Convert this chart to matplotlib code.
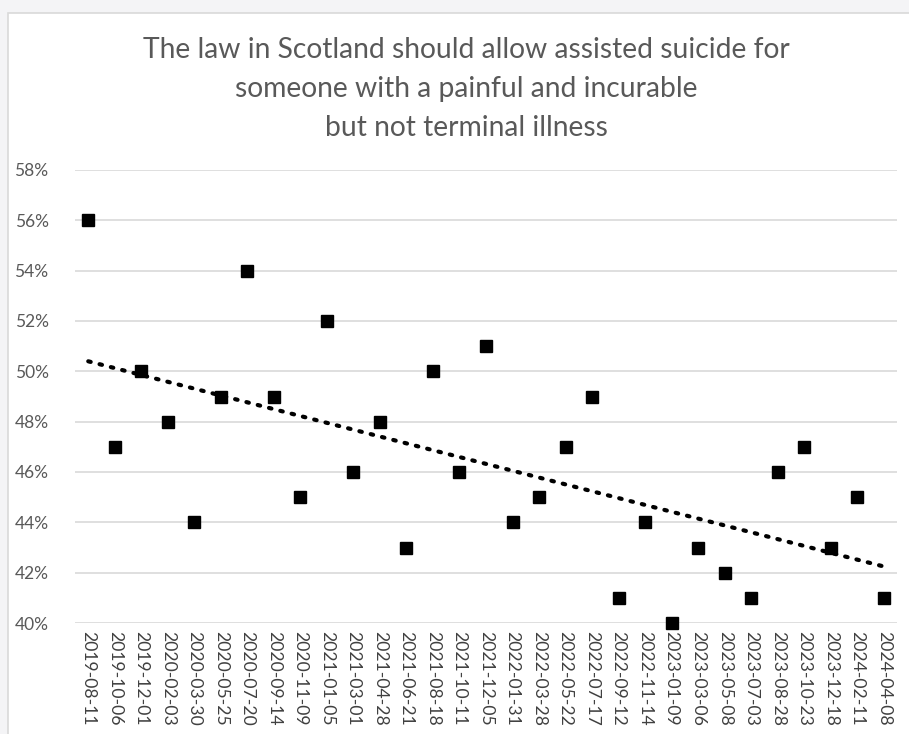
import matplotlib
matplotlib.use("Agg")
import matplotlib.pyplot as plt
import numpy as np
from matplotlib.patches import Rectangle
from matplotlib.ticker import PercentFormatter

dates = ["2019-08-11", "2019-10-06", "2019-12-01", "2020-02-03", "2020-03-30",
         "2020-05-25", "2020-07-20", "2020-09-14", "2020-11-09", "2021-01-05",
         "2021-03-01", "2021-04-28", "2021-06-21", "2021-08-18", "2021-10-11",
         "2021-12-05", "2022-01-31", "2022-03-28", "2022-05-22", "2022-07-17",
         "2022-09-12", "2022-11-14", "2023-01-09", "2023-03-06", "2023-05-08",
         "2023-07-03", "2023-08-28", "2023-10-23", "2023-12-18", "2024-02-11",
         "2024-04-08"]
agree = [56, 47, 50, 48, 44, 49, 54, 49, 45, 52, 46, 48, 43, 50, 46, 51, 44,
         45, 47, 49, 41, 44, 40, 43, 42, 41, 46, 47, 43, 45, 41]

title = ("The law in Scotland should allow assisted suicide for\n"
         "someone with a painful and incurable\n"
         "but not terminal illness")

grey = "#595959"
plt.rcParams["font.family"] = ["Lato", "DejaVu Sans"]

fig = plt.figure(figsize=(9.09, 7.34), dpi=100)
fig.patch.set_facecolor("#f4f4f6")
# white chart area with thin border
fig.patches.append(Rectangle((8 / 909, -0.01), 1.0, (734 - 13) / 734 + 0.01,
                             transform=fig.transFigure, facecolor="white",
                             edgecolor="#d9d9d9", linewidth=1.2, zorder=-10))

ax = fig.add_axes([75 / 909, (734 - 623) / 734, (897 - 75) / 909, (623 - 170) / 734])
ax.set_facecolor("none")

x = np.arange(len(dates))
y = np.array(agree) / 100

ax.plot(x, y, linestyle="none", marker="s", markersize=9, color="black",
        zorder=3, clip_on=False)

# linear trendline
k, b = np.polyfit(x, y, 1)
ax.plot(x, k * x + b, color="black", linestyle=(0, (0.6, 2.2)), linewidth=3,
        dash_capstyle="round", zorder=2)

ax.set_xlim(-0.5, len(dates) - 0.5)
ax.set_ylim(0.40, 0.58)
ax.set_yticks(np.arange(0.40, 0.581, 0.02))
ax.yaxis.set_major_formatter(PercentFormatter(1.0, decimals=0))
ax.set_xticks(x)
ax.set_xticklabels(dates, rotation=-90, fontsize=12.6, color="#404040")
ax.tick_params(axis="y", labelsize=12.5, labelcolor=grey, length=0, pad=19)
ax.tick_params(axis="x", length=0, pad=6)
ax.grid(axis="y", color="#d9d9d9", linewidth=1.2)
for s in ax.spines.values():
    s.set_visible(False)

fig.text(466 / 909, 1 - 89 / 734, title, ha="center", va="center",
         fontsize=20.3, color=grey, linespacing=1.62)

fig.savefig("out.png", dpi=100, facecolor=fig.get_facecolor())
